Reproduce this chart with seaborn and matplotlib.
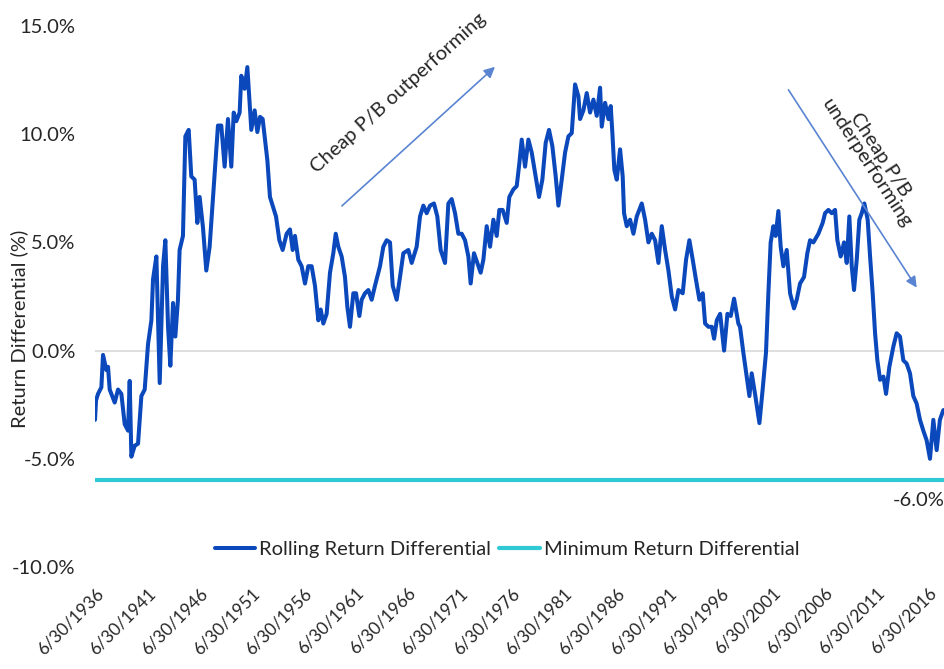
import matplotlib
matplotlib.use("Agg")
import matplotlib.pyplot as plt
import seaborn as sns
import pandas as pd

# ---- data (decimal year, % differential) ----
years = [1936.50, 1936.60, 1936.79, 1937.11, 1937.27, 1937.59, 1937.75, 1937.91, 1938.39, 1938.71,
         1939.03, 1939.35, 1939.67, 1939.83, 1939.99, 1940.31, 1940.63, 1940.95, 1941.27, 1941.59,
         1941.91, 1942.07, 1942.39, 1942.71, 1943.03, 1943.25, 1943.51, 1943.73, 1943.99, 1944.21,
         1944.46, 1944.62, 1944.94, 1945.17, 1945.49, 1945.74, 1946.06, 1946.32, 1946.54, 1946.86,
         1947.18, 1947.50, 1947.98, 1948.30, 1948.62, 1948.94, 1949.26, 1949.58, 1949.81, 1950.06,
         1950.38, 1950.54, 1950.86, 1951.12, 1951.50, 1951.82, 1952.08, 1952.34, 1952.59, 1952.81,
         1953.04, 1953.29, 1953.55, 1953.87, 1954.19, 1954.51, 1954.89, 1955.21, 1955.47, 1955.69,
         1956.01, 1956.33, 1956.65, 1956.97, 1957.29, 1957.61, 1957.93, 1958.16, 1958.41, 1958.73,
         1959.05, 1959.37, 1959.60, 1959.85, 1960.17, 1960.49, 1960.72, 1960.97, 1961.29, 1961.55,
         1961.87, 1962.09, 1962.41, 1962.73, 1963.05, 1963.37, 1963.85, 1964.17, 1964.49, 1964.81,
         1965.07, 1965.45, 1965.77, 1966.09, 1966.57, 1966.89, 1967.37, 1967.69, 1968.01, 1968.33,
         1968.65, 1969.03, 1969.35, 1969.67, 1970.09, 1970.41, 1970.73, 1971.05, 1971.37, 1971.69,
         1972.01, 1972.33, 1972.55, 1972.87, 1973.19, 1973.51, 1973.77, 1974.09, 1974.41, 1974.73,
         1975.05, 1975.30, 1975.62, 1976.01, 1976.26, 1976.65, 1976.97, 1977.22, 1977.45, 1977.77,
         1978.09, 1978.41, 1978.73, 1979.11, 1979.43, 1979.75, 1980.07, 1980.39, 1980.71, 1980.97,
         1981.29, 1981.61, 1981.93, 1982.25, 1982.57, 1982.89, 1983.05, 1983.37, 1983.69, 1984.01,
         1984.33, 1984.65, 1984.97, 1985.13, 1985.45, 1985.77, 1985.99, 1986.15, 1986.34, 1986.57,
         1986.89, 1987.14, 1987.27, 1987.53, 1987.85, 1988.17, 1988.49, 1988.97, 1989.29, 1989.61,
         1989.93, 1990.25, 1990.57, 1990.89, 1991.21, 1991.53, 1991.85, 1992.17, 1992.49, 1992.90,
         1993.22, 1993.54, 1993.86, 1994.18, 1994.50, 1994.82, 1995.05, 1995.37, 1995.69, 1995.91,
         1996.17, 1996.49, 1996.87, 1997.19, 1997.51, 1997.83, 1998.24, 1998.40, 1998.72, 1999.04,
         1999.30, 1999.52, 1999.84, 2000.26, 2000.57, 2000.89, 2001.12, 2001.34, 2001.60, 2001.82,
         2002.08, 2002.30, 2002.56, 2002.88, 2003.20, 2003.58, 2003.84, 2004.16, 2004.54, 2004.86,
         2005.12, 2005.44, 2005.92, 2006.33, 2006.56, 2006.88, 2007.20, 2007.52, 2007.74, 2008.06,
         2008.38, 2008.64, 2008.89, 2009.12, 2009.34, 2009.60, 2009.85, 2010.08, 2010.33, 2010.65,
         2010.88, 2011.13, 2011.36, 2011.58, 2011.84, 2012.16, 2012.41, 2012.73, 2013.12, 2013.43,
         2013.75, 2014.07, 2014.39, 2014.71, 2015.03, 2015.35, 2015.67, 2015.99, 2016.31, 2016.63,
         2016.95, 2017.27, 2017.58, 2017.91, 2018.07]

rolling_diff = [-3.2, -2.3, -2.0, -1.7, -0.2, -0.9, -0.75, -1.8, -2.4, -1.8,
                -2.0, -3.4, -3.7, -1.4, -4.9, -4.4, -4.3, -2.1, -1.8, 0.3,
                1.4, 3.3, 4.35, -1.5, 3.9, 5.1, 1.1, -0.7, 2.2, 0.65,
                2.35, 4.65, 5.3, 9.9, 10.2, 8.05, 7.9, 5.9, 7.1, 5.7,
                3.7, 4.8, 8.2, 10.4, 10.4, 8.5, 10.7, 8.5, 11.0, 10.6,
                11.0, 12.7, 12.1, 13.1, 10.2, 11.1, 10.1, 10.8, 10.7, 9.75,
                8.8, 7.1, 6.7, 6.2, 5.1, 4.65, 5.4, 5.6, 4.65, 5.3,
                4.2, 3.9, 3.1, 3.9, 3.9, 3.0, 1.4, 1.9, 1.25, 1.7,
                3.6, 4.5, 5.4, 4.8, 4.35, 3.4, 2.0, 1.1, 2.65, 2.65,
                1.6, 2.35, 2.65, 2.8, 2.35, 3.0, 3.9, 4.8, 5.1, 5.0,
                3.0, 2.35, 3.4, 4.5, 4.65, 4.05, 4.8, 6.2, 6.7, 6.35,
                6.7, 6.8, 6.2, 4.65, 4.05, 6.8, 7.0, 6.35, 5.4, 5.4,
                5.1, 4.35, 3.1, 4.5, 4.05, 3.6, 4.2, 5.75, 4.8, 6.05,
                5.3, 6.5, 6.5, 5.9, 7.1, 7.45, 7.6, 8.65, 9.75, 8.5,
                9.75, 9.15, 8.2, 7.1, 7.9, 9.6, 10.2, 9.45, 8.05, 6.7,
                7.9, 9.15, 9.9, 10.05, 12.3, 11.75, 10.7, 11.1, 11.9, 11.0,
                11.6, 10.85, 12.15, 10.35, 11.45, 10.7, 11.3, 10.05, 8.35, 7.9,
                9.3, 8.05, 6.35, 5.75, 6.05, 5.4, 6.2, 6.8, 6.05, 5.0,
                5.4, 5.1, 4.05, 5.75, 4.65, 3.7, 2.5, 1.9, 2.8, 2.65,
                4.2, 5.1, 4.2, 3.25, 2.35, 2.65, 1.25, 1.1, 1.1, 0.55,
                1.4, 1.7, 0.0, 1.7, 1.6, 2.4, 1.25, 1.1, -0.1, -1.2,
                -2.1, -1.05, -2.0, -3.35, -1.8, -0.1, 2.65, 5.0, 5.75, 5.3,
                6.45, 4.8, 3.9, 4.65, 2.65, 1.95, 2.35, 3.1, 3.4, 4.5,
                5.1, 5.0, 5.4, 5.9, 6.35, 6.5, 6.35, 6.5, 5.1, 4.35,
                5.0, 4.05, 6.2, 3.9, 2.8, 4.2, 6.05, 6.35, 6.8, 6.05,
                4.35, 2.65, 0.8, -0.45, -1.35, -1.2, -2.0, -0.75, 0.2, 0.8,
                0.65, -0.45, -0.6, -1.05, -2.1, -2.45, -3.2, -3.7, -4.15, -5.0,
                -3.2, -4.6, -3.2, -2.75, -2.75]

min_return = -6.0
series_names = ["Rolling Return Differential", "Minimum Return Differential"]
tick_years = [1936.5 + 5 * i for i in range(17)]
tick_labels = ["6/30/%d" % int(y) for y in tick_years]
y_ticks = [-10, -5, 0, 5, 10, 15]
y_tick_labels = ["%.1f%%" % v for v in y_ticks]
ann_up = "Cheap P/B outperforming"
ann_down = "Cheap P/B\nunderperforming"

df = pd.DataFrame({"year": years, "value": rolling_diff})
df_min = pd.DataFrame({"year": [years[0], years[-1]], "value": [min_return, min_return]})

# ---- styling ----
sns.set_theme(style="white")
plt.rcParams["font.family"] = ["Lato", "DejaVu Sans"]
text_col = "#262626"
blue = "#0A48BC"
cyan = "#2FC9D6"
arrow_col = "#5A84D2"
fs = 14.5

fig = plt.figure(figsize=(9.45, 6.69), dpi=100)
ax = fig.add_axes([95 / 945, 1 - 567 / 669, 850 / 945, 541 / 669])

ax.axhline(0, color="#D9D9D9", lw=1.2, zorder=0)
sns.lineplot(data=df_min, x="year", y="value", ax=ax, color=cyan, lw=3.0,
             label=series_names[1], zorder=2)
sns.lineplot(data=df, x="year", y="value", ax=ax, color=blue, lw=2.9,
             label=series_names[0], zorder=3)

ax.set_xlim(years[0], years[-1])
ax.set_ylim(-10, 15)
ax.set_xticks(tick_years)
ax.set_xticklabels(tick_labels, rotation=45, ha="right", va="top",
                   rotation_mode="anchor", fontsize=12.5, color=text_col)
ax.set_yticks(y_ticks)
ax.set_yticklabels(y_tick_labels, fontsize=fs, color=text_col)
ax.tick_params(axis="x", length=0, pad=13)
ax.tick_params(axis="y", length=0, pad=14)
for s in ax.spines.values():
    s.set_visible(False)
ax.set_xlabel("")
ax.set_ylabel("Return Differential (%)", fontsize=fs, color=text_col)
ax.yaxis.set_label_coords(-0.079, 0.44)

# legend (order: rolling then minimum)
h, l = ax.get_legend_handles_labels()
order = [l.index(series_names[0]), l.index(series_names[1])]
ax.legend([h[i] for i in order], [l[i] for i in order], loc="center",
          bbox_to_anchor=(0.485, 0.033), ncol=2, frameon=False, fontsize=fs,
          handlelength=2.0, handletextpad=0.2, columnspacing=0.4,
          labelcolor=text_col)

# data label for minimum line
ax.annotate("%.1f%%" % min_return, xy=(years[-1], min_return), xytext=(0, -8),
            textcoords="offset points", ha="right", va="top", fontsize=fs,
            color=text_col)

# annotations with arrows
ax.annotate("", xy=(1975.08, 13.2), xytext=(1960.0, 6.6),
            arrowprops=dict(arrowstyle="-|>", color=arrow_col, lw=1.2,
                            mutation_scale=16))
ax.text(1965.6, 11.9, ann_up, rotation=42, rotation_mode="anchor",
        ha="center", va="center", fontsize=fs, color=text_col)
ax.annotate("", xy=(2015.5, 2.8), xytext=(2002.9, 12.16),
            arrowprops=dict(arrowstyle="-|>", color=arrow_col, lw=1.2,
                            mutation_scale=16))
ax.text(2011.2, 8.85, ann_down, rotation=-57, rotation_mode="anchor",
        ha="center", va="center", multialignment="center", fontsize=fs,
        color=text_col, linespacing=1.0)

fig.savefig("out.png", dpi=100)
